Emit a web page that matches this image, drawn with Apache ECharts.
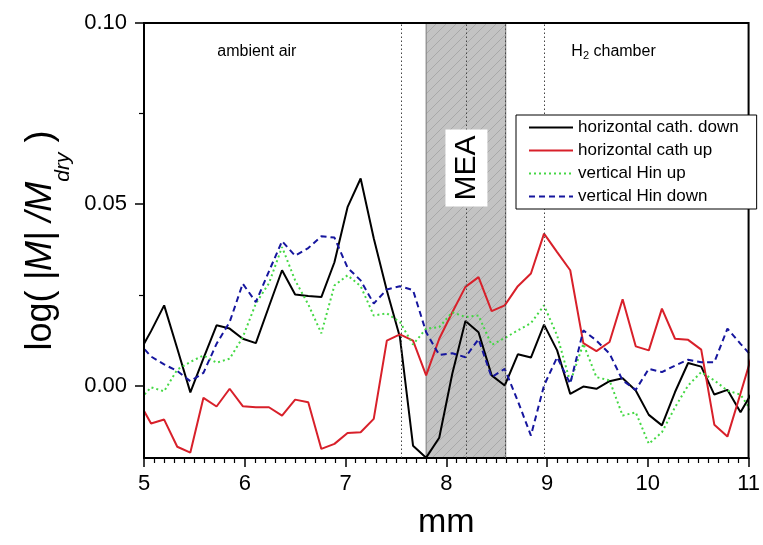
<!DOCTYPE html>
<html>
<head>
<meta charset="utf-8">
<script src="https://cdn.jsdelivr.net/npm/echarts@6/dist/echarts.min.js"></script>
<style>html,body{margin:0;padding:0;background:#fff}#c{width:763px;height:545px}</style>
</head>
<body>
<div id="c"></div>
<script>
// ---- data ----
var xPos = [4.94, 5.07, 5.20, 5.33, 5.46, 5.59, 5.72, 5.85, 5.98, 6.11, 6.24, 6.37, 6.50, 6.63, 6.76, 6.89, 7.02, 7.15, 7.28, 7.41, 7.54, 7.67, 7.80, 7.93, 8.06, 8.19, 8.32, 8.45, 8.58, 8.71, 8.84, 8.97, 9.10, 9.23, 9.36, 9.49, 9.62, 9.75, 9.88, 10.01, 10.14, 10.27, 10.40, 10.53, 10.66, 10.79, 10.92, 11.05];
var horizCathDown = [0.0085, 0.0150, 0.0221, 0.0102, -0.0019, 0.0075, 0.0166, 0.0157, 0.0129, 0.0117, 0.0218, 0.0318, 0.0251, 0.0247, 0.0244, 0.0340, 0.0492, 0.0571, 0.0406, 0.0262, 0.0133, -0.0166, -0.0199, -0.0144, 0.0033, 0.0178, 0.0147, 0.0028, 0.0000, 0.0086, 0.0077, 0.0168, 0.0097, -0.0023, -0.0003, -0.0009, 0.0012, 0.0020, -0.0014, -0.0081, -0.0110, -0.0018, 0.0062, 0.0052, -0.0025, -0.0012, -0.0074, -0.0012];
var horizCathUp = [-0.0040, -0.0105, -0.0094, -0.0169, -0.0185, -0.0034, -0.0058, -0.0009, -0.0057, -0.0060, -0.0060, -0.0083, -0.0039, -0.0046, -0.0175, -0.0161, -0.0131, -0.0129, -0.0092, 0.0124, 0.0141, 0.0124, 0.0028, 0.0129, 0.0202, 0.0272, 0.0299, 0.0205, 0.0221, 0.0274, 0.0309, 0.0419, 0.0368, 0.0318, 0.0117, 0.0095, 0.0120, 0.0238, 0.0108, 0.0097, 0.0212, 0.0129, 0.0126, 0.0099, -0.0108, -0.0141, -0.0022, 0.0099];
var vertHinUp = [-0.0045, -0.0005, -0.0016, 0.0044, 0.0065, 0.0083, 0.0063, 0.0074, 0.0133, 0.0226, 0.0282, 0.0382, 0.0290, 0.0224, 0.0144, 0.0276, 0.0304, 0.0274, 0.0193, 0.0199, 0.0175, 0.0113, 0.0157, 0.0161, 0.0202, 0.0189, 0.0193, 0.0112, 0.0131, 0.0152, 0.0172, 0.0221, 0.0138, 0.0009, 0.0115, 0.0023, 0.0014, -0.0083, -0.0074, -0.0161, -0.0129, -0.0060, 0.0000, 0.0037, 0.0014, -0.0014, -0.0025, -0.0080];
var vertHinDown = [0.0120, 0.0080, 0.0058, 0.0040, 0.0012, 0.0035, 0.0115, 0.0175, 0.0281, 0.0230, 0.0315, 0.0398, 0.0358, 0.0379, 0.0412, 0.0408, 0.0325, 0.0290, 0.0226, 0.0265, 0.0274, 0.0263, 0.0147, 0.0084, 0.0089, 0.0078, 0.0128, 0.0023, 0.0046, -0.0043, -0.0138, 0.0000, 0.0078, 0.0005, 0.0152, 0.0124, 0.0088, 0.0014, -0.0012, 0.0046, 0.0037, 0.0055, 0.0071, 0.0064, 0.0064, 0.0157, 0.0115, 0.0075];
var seriesNames = ['horizontal cath. down', 'horizontal cath up', 'vertical Hin up', 'vertical Hin down'];
var meaRange = [7.8, 8.59];
var guideLinesX = [7.55, 8.2, 8.59, 8.97];
var xTicks = [5, 6, 7, 8, 9, 10, 11];
var yTickLabels = [0, 0.05, 0.10];
var yMinorTicks = [0.025, 0.075];

function pair(ys) { return xPos.map(function (x, i) { return [x, ys[i]]; }); }

// hatch pattern for MEA band
var pc = document.createElement('canvas');
pc.width = 10; pc.height = 10;
var g = pc.getContext('2d');
g.fillStyle = '#c3c3c3'; g.fillRect(0, 0, 10, 10);
g.strokeStyle = '#a2a2a2'; g.lineWidth = 0.8;
g.beginPath();
g.moveTo(0, 10); g.lineTo(10, 0);
g.moveTo(-1, 1); g.lineTo(1, -1);
g.moveTo(9, 11); g.lineTo(11, 9);
g.stroke();

var FONT = 'Liberation Sans, Arial, sans-serif';
var chart = echarts.init(document.getElementById('c'), null, { renderer: 'canvas' });

var dataSeriesCfg = [
  { data: horizCathDown, color: '#000000', type: 'solid' },
  { data: horizCathUp, color: '#d8202a', type: 'solid' },
  { data: vertHinUp, color: '#44d844', type: [2, 3] },
  { data: vertHinDown, color: '#16169e', type: [6, 4] }
];

var series = [{
  name: 'band', type: 'line', data: [], z: 1, silent: true,
  markArea: {
    silent: true,
    itemStyle: { color: { image: pc, repeat: 'repeat' }, borderColor: '#7a7a7a', borderWidth: 1 },
    data: [[{ xAxis: meaRange[0] }, { xAxis: meaRange[1] }]]
  },
  markLine: {
    silent: true, symbol: 'none', animation: false,
    label: { show: false },
    lineStyle: { color: '#444', type: [1.5, 2.5], width: 1 },
    data: guideLinesX.map(function (v) { return { xAxis: v }; })
  }
}];
dataSeriesCfg.forEach(function (s, i) {
  series.push({
    name: seriesNames[i], type: 'line', z: 3,
    data: pair(s.data), showSymbol: false, symbol: 'none', clip: true,
    lineStyle: { color: s.color, width: 2, type: s.type },
    itemStyle: { color: s.color }
  });
});

chart.setOption({
  animation: false,
  backgroundColor: '#fff',
  grid: { left: 144, right: 11, top: 23, bottom: 87, show: true, borderColor: '#000', borderWidth: 2, backgroundColor: 'transparent', z: 5 },
  legend: {
    data: seriesNames, orient: 'vertical', left: 516, top: 115,
    itemWidth: 44, itemHeight: 12, itemGap: 6,
    padding: [4, 18, 4, 12],
    backgroundColor: '#fff', borderColor: '#000', borderWidth: 1,
    itemStyle: { opacity: 0 },
    textStyle: { fontSize: 17, color: '#000', fontFamily: FONT },
    z: 10
  },
  xAxis: {
    type: 'value', min: 5, max: 11, interval: 1,
    name: 'mm', nameLocation: 'middle', nameGap: 48,
    nameTextStyle: { fontSize: 34, color: '#000', fontFamily: FONT },
    axisLine: { onZero: false, lineStyle: { color: '#000', width: 2 } },
    axisTick: { length: 9, inside: false, lineStyle: { color: '#000', width: 1.5 } },
    minorTick: { show: true, splitNumber: 10, length: 5, lineStyle: { color: '#000', width: 1.2 } },
    axisLabel: { fontSize: 22, color: '#000', margin: 15, fontFamily: FONT,
      formatter: function (v) { return xTicks.indexOf(v) >= 0 ? String(v) : ''; } },
    splitLine: { show: false }
  },
  yAxis: [{
    type: 'value', min: -0.02, max: 0.10,
    name: '{n|log( }{i||M| /M}{s|dry}{n| )}', nameLocation: 'middle', nameGap: 76, nameRotate: 90,
    nameTextStyle: { fontSize: 36, color: '#000', fontFamily: FONT,
      rich: {
        n: { fontSize: 36, fontFamily: FONT, color: '#000' },
        i: { fontSize: 36, fontStyle: 'italic', fontFamily: FONT, color: '#000' },
        s: { fontSize: 21, fontStyle: 'italic', fontFamily: FONT, color: '#000', verticalAlign: 'bottom', padding: [0, 0, -14, 0] }
      } },
    axisLine: { show: true, onZero: false, lineStyle: { color: '#000', width: 2 } },
    axisTick: { show: true, length: 9, customValues: yTickLabels, lineStyle: { color: '#000', width: 1.5 } },
    axisLabel: { fontSize: 22, color: '#000', margin: 17, fontFamily: FONT, customValues: yTickLabels,
      formatter: function (v) { return v.toFixed(2); } },
    splitLine: { show: false }
  }, {
    type: 'value', min: -0.02, max: 0.10, position: 'left', gridIndex: 0,
    axisLine: { show: false, onZero: false },
    axisTick: { show: true, length: 5, customValues: yMinorTicks, lineStyle: { color: '#000', width: 1.2 } },
    axisLabel: { show: false, customValues: yMinorTicks },
    splitLine: { show: false }
  }],
  series: series
});

function px(x, y) { return chart.convertToPixel({ gridIndex: 0 }, [x, y]); }
var pA = px(6.12, 0.092), pH = px(9.66, 0.092), pM = px(8.2, 0.060);
chart.setOption({
  graphic: [
    { type: 'text', x: pA[0], y: pA[1], z: 20,
      style: { text: 'ambient air', fontSize: 16, fontFamily: FONT, fill: '#000', textAlign: 'center', textVerticalAlign: 'middle' } },
    { type: 'text', x: pH[0], y: pH[1], z: 20,
      style: { text: '{a|H}{b|2}{a| chamber}', fontFamily: FONT, fill: '#000', textAlign: 'center', textVerticalAlign: 'middle',
        rich: { a: { fontSize: 16, fontFamily: FONT }, b: { fontSize: 11, fontFamily: FONT, padding: [8, 0, 0, 0] } } } },
    { type: 'text', x: pM[0], y: pM[1], rotation: Math.PI / 2, z: 20,
      style: { text: 'MEA', fontSize: 30, fontFamily: FONT, fill: '#000', textAlign: 'center', textVerticalAlign: 'middle',
        backgroundColor: '#fff', padding: [4, 6, 4, 6], lineHeight: 34 } }
  ]
});
</script>
</body>
</html>
